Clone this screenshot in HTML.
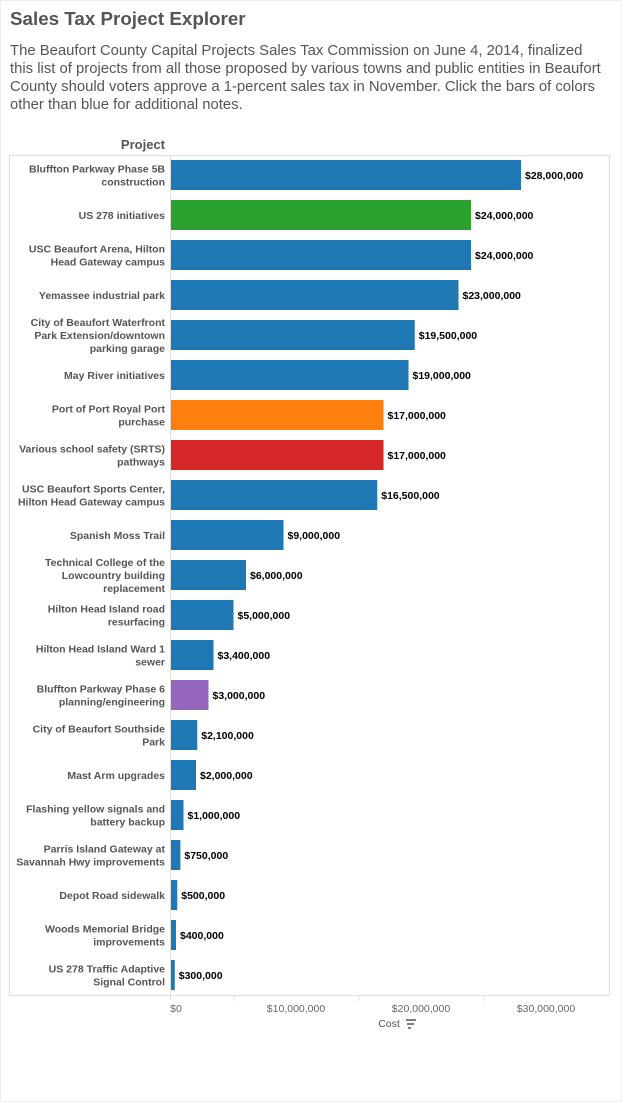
<!DOCTYPE html>
<html><head><meta charset="utf-8"><style>
body{margin:0;background:#fff;font-family:"Liberation Sans",Arial,sans-serif;}
#wrap{position:relative;width:620px;height:1100px;border:1px solid #eee;}
h1{position:absolute;left:9px;top:7px;margin:0;font-size:18.8px;font-weight:bold;color:#555;}
#desc{position:absolute;left:9px;top:41px;width:592px;font-size:14.85px;line-height:18px;color:#555;margin:0;}
svg{position:absolute;left:0;top:0;}
</style></head><body>
<div id="wrap">
<h1>Sales Tax Project Explorer</h1>
<p id="desc">The Beaufort County Capital Projects Sales Tax Commission on June 4, 2014, finalized this list of projects from all those proposed by various towns and public entities in Beaufort County should voters approve a 1-percent sales tax in November. Click the bars of colors other than blue for additional notes.</p>
<svg id="chart" width="622" height="1102"></svg>
</div>
<script>
const projects=[["Bluffton Parkway Phase 5B","construction"],["US 278 initiatives"],["USC Beaufort Arena, Hilton","Head Gateway campus"],["Yemassee industrial park"],["City of Beaufort Waterfront","Park Extension/downtown","parking garage"],["May River initiatives"],["Port of Port Royal Port","purchase"],["Various school safety (SRTS)","pathways"],["USC Beaufort Sports Center,","Hilton Head Gateway campus"],["Spanish Moss Trail"],["Technical College of the","Lowcountry building","replacement"],["Hilton Head Island road","resurfacing"],["Hilton Head Island Ward 1","sewer"],["Bluffton Parkway Phase 6","planning/engineering"],["City of Beaufort Southside","Park"],["Mast Arm upgrades"],["Flashing yellow signals and","battery backup"],["Parris Island Gateway at","Savannah Hwy improvements"],["Depot Road sidewalk"],["Woods Memorial Bridge","improvements"],["US 278 Traffic Adaptive","Signal Control"]];
const costs=[28000000,24000000,24000000,23000000,19500000,19000000,17000000,17000000,16500000,9000000,6000000,5000000,3400000,3000000,2100000,2000000,1000000,750000,500000,400000,300000];
const colors=["#1f77b4","#2ca02c","#1f77b4","#1f77b4","#1f77b4","#1f77b4","#ff7f0e","#d62728","#1f77b4","#1f77b4","#1f77b4","#1f77b4","#1f77b4","#9467bd","#1f77b4","#1f77b4","#1f77b4","#1f77b4","#1f77b4","#1f77b4","#1f77b4"];
const tickValues=[0,10000000,20000000,30000000];
const minorTicks=[5000000,15000000,25000000];
const tickLabels=["$0","$10,000,000","$20,000,000","$30,000,000"];
const NS="http://www.w3.org/2000/svg";
const svg=document.getElementById('chart');
const X0=170,PX=12.5/1e6,TOP=154,ROW=40;
const x=v=>X0+v*PX;
const y=i=>TOP+i*ROW;
function el(t,a,txt){const e=document.createElementNS(NS,t);for(const k in a)e.setAttribute(k,a[k]);if(txt!=null)e.textContent=txt;svg.appendChild(e);return e;}
const fmt=v=>"$"+v.toLocaleString("en-US");
let h=el('text',{x:164,y:148,'text-anchor':'end','font-size':13,'font-weight':'bold',fill:'#555'},'Project');


let fr=el('rect',{x:8.5,y:154.5,width:600,height:840,fill:'none',stroke:'#ddd'});


let ax=el('line',{x1:X0-0.5,y1:154,x2:X0-0.5,y2:999,stroke:'#ddd'});


costs.forEach((c,i)=>{
  const r=el('rect',{x:X0,y:y(i)+5,width:x(c)-X0,height:30,fill:colors[i]});
  
  
  const v=el('text',{x:x(c)+4,y:y(i)+24,'font-size':10.5,'font-weight':'bold',fill:'#000'},fmt(c));
  
  
  const lines=projects[i],n=lines.length,cy=y(i)+20;
  lines.forEach((ln,j)=>{
    const t=el('text',{x:164,y:cy+4+(j-(n-1)/2)*13,'text-anchor':'end','font-size':10.5,'font-weight':'bold',fill:'#555'},ln);
    
    
  });
});
tickValues.forEach((v,i)=>{
  const t=el('text',{x:i===0?x(v)+5:x(v),y:1011,'text-anchor':'middle','font-size':10.5,fill:'#666'},tickLabels[i]);
  
  
});
minorTicks.forEach(v=>{
  const l=el('line',{x1:x(v)+0.5,y1:995,x2:x(v)+0.5,y2:1000,stroke:'#ddd'});
  
  
});
let xt=el('text',{x:388,y:1026,'text-anchor':'middle','font-size':10.5,fill:'#555'},'Cost');


let si=el('path',{d:'M405 1019h10M406 1023h7M407 1027h3',stroke:'#555','stroke-width':1.5});


</script>
</body></html>
